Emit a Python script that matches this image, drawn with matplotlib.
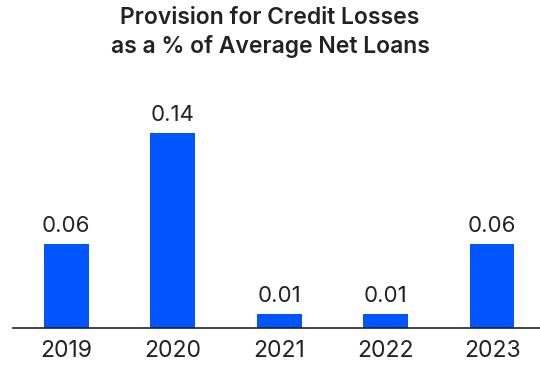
import matplotlib.pyplot as plt

# Provision for credit losses, % of average net loans
years = ["2019", "2020", "2021", "2022", "2023"]
values = [0.06, 0.14, 0.01, 0.01, 0.06]

plt.rcParams["font.family"] = ["Inter", "DejaVu Sans"]

fig = plt.figure(figsize=(5.4, 3.67), dpi=100)
ax = fig.add_axes([0.024, 0.107, 0.976, 0.62])

x = range(len(years))
bars = ax.bar(x, values, width=0.42, color="#0055ff")

# value labels above each bar
for xi, v in zip(x, values):
    ax.text(xi, v + 0.006, f"{v:.2f}", ha="center", va="bottom",
            fontsize=16, color="#222222")

ax.set_xlim(-0.5, 4.45)
ax.set_ylim(0, 0.164)
ax.set_xticks(list(x))
ax.set_xticklabels(years, fontsize=16.5, color="#222222")
ax.tick_params(axis="x", length=0, pad=9)
ax.set_yticks([])
for side in ["top", "right", "left"]:
    ax.spines[side].set_visible(False)
ax.spines["bottom"].set_color("#222222")
ax.spines["bottom"].set_linewidth(1.2)

# two-line title
fig.text(0.5, 0.951, "Provision for Credit Losses", ha="center", va="center",
         fontsize=16.5, fontweight="semibold", color="#222222")
fig.text(0.5, 0.872, "as a % of Average Net Loans", ha="center", va="center",
         fontsize=16.5, fontweight="semibold", color="#222222")

fig.savefig("out.png", dpi=100)
